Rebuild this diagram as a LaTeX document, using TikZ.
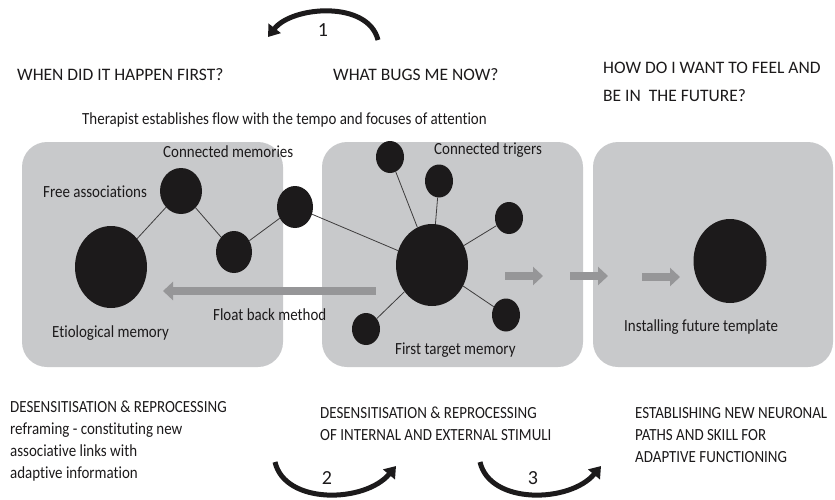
\documentclass[tikz,border=0pt]{standalone}
\usepackage{fontspec}
\setmainfont{Carlito}[Ligatures=NoCommon]
\newfontfamily\remarkfont{Carlito}[FakeStretch=0.88, Ligatures=NoCommon]
\usetikzlibrary{shapes.geometric,arrows.meta}
\definecolor{panelgray}{RGB}{200,201,203}
\definecolor{flowgray}{RGB}{150,150,152}
\definecolor{inkblack}{RGB}{28,26,27}
\tikzset{
  panel/.style={fill=panelgray, rounded corners=25pt, inner sep=0},
  ball/.style={ellipse, fill=inkblack, inner sep=0},
  link/.style={draw=inkblack!85, line width=0.8pt},
  flowarrow/.style={draw=flowgray, line width=8pt, -{Triangle[width=18pt,length=10pt]}},
  cyclearrow/.style={draw=inkblack, line width=5pt, -{Triangle[width=15pt,length=11pt]}},
  headline/.style={font=\fontsize{17.5}{28}\selectfont, text=inkblack, anchor=west, inner sep=0, align=left},
  remark/.style={font=\remarkfont\fontsize{17}{22}\selectfont, text=inkblack, anchor=west, inner sep=0, align=left},
  num/.style={font=\fontsize{20}{20}\selectfont, text=inkblack, inner sep=0}
}
\begin{document}
\begin{tikzpicture}[x=1pt,y=-1pt]
\useasboundingbox (0,0) rectangle (835,499);

\node[panel, minimum width=261pt, minimum height=225pt] (past) at (152.5,254.5) {};
\node[panel, minimum width=261pt, minimum height=225pt] (now) at (452.5,254.5) {};
\node[panel, minimum width=240pt, minimum height=225pt] (future) at (713,254.5) {};

\node[headline] (qpast) at (17,75) {WHEN DID IT HAPPEN FIRST?};
\node[headline] (qnow) at (333,75) {WHAT BUGS ME NOW?};
\node[headline] (qfuture) at (603,82) {HOW DO I WANT TO FEEL AND\\BE IN\ \ THE FUTURE?};
\node[remark] (tempo) at (82,120) {Therapist establishes flow with the tempo and focuses of attention};

% memories
\node[ball, minimum width=72pt, minimum height=82pt] (etio) at (111,267) {};
\node[ball, minimum width=42pt, minimum height=46pt] (mem1) at (181,191) {};
\node[ball, minimum width=36pt, minimum height=42pt] (mem2) at (234,252) {};
\node[ball, minimum width=36pt, minimum height=42pt] (mem3) at (295,207) {};
% triggers
\node[ball, minimum width=72pt, minimum height=82pt] (target) at (432,265) {};
\node[ball, minimum width=28pt, minimum height=32pt] (trig1) at (390,157) {};
\node[ball, minimum width=28pt, minimum height=33pt] (trig2) at (439,181) {};
\node[ball, minimum width=28pt, minimum height=32pt] (trig3) at (509,218) {};
\node[ball, minimum width=28pt, minimum height=33pt] (trig4) at (506,315) {};
\node[ball, minimum width=28pt, minimum height=32pt] (trig5) at (366,329) {};
\node[ball, minimum width=73pt, minimum height=84pt] (template) at (730,261) {};

\draw[link] (etio) -- (mem1) -- (mem2) -- (mem3) -- (target);
\foreach \t in {1,...,5} \draw[link] (target) -- (trig\t);

\coordinate (fb1) at (376,291);
\coordinate (fb2) at (163,291);
\draw[flowarrow] (fb1) -- (fb2);
\coordinate (go1) at (505,276); \coordinate (go2) at (543,276);
\coordinate (go3) at (570,276); \coordinate (go4) at (608,276);
\coordinate (go5) at (642,277); \coordinate (go6) at (680,277);
\draw[flowarrow] (go1) -- (go2);
\draw[flowarrow] (go3) -- (go4);
\draw[flowarrow] (go5) -- (go6);

\node[remark] (lmem) at (163,152) {Connected memories};
\node[remark] (lfree) at (43,192) {Free associations};
\node[remark] (letio) at (52,333) {Etiological memory};
\node[remark] (lfloat) at (213,315) {Float back method};
\node[remark] (ltrig) at (434,150) {Connected trigers};
\node[remark] (ltarget) at (395,350) {First target memory};
\node[remark] (ltemplate) at (624,327) {Installing future template};

\node[remark] (dpast) at (10,441) {DESENSITISATION \& REPROCESSING\\reframing - constituting new\\associative links with\\adaptive information};
\node[remark] (dnow) at (320,424) {DESENSITISATION \& REPROCESSING\\OF INTERNAL AND EXTERNAL STIMULI};
\node[remark] (dfuture) at (635,435) {ESTABLISHING NEW NEURONAL\\PATHS AND SKILL FOR\\ADAPTIVE FUNCTIONING};

\coordinate (c1a) at (378,40); \coordinate (c1b) at (268,37);
\draw[cyclearrow] (c1a) .. controls (368,0) and (292,6) .. (c1b);
\node[num] (n1) at (323,30) {1};
\coordinate (c2a) at (275,462); \coordinate (c2b) at (396,466);
\draw[cyclearrow] (c2a) .. controls (285,505) and (365,503) .. (c2b);
\node[num] (n2) at (327,478) {2};
\coordinate (c3a) at (480,462); \coordinate (c3b) at (601,466);
\draw[cyclearrow] (c3a) .. controls (490,505) and (570,503) .. (c3b);
\node[num] (n3) at (533,478) {3};
\end{tikzpicture}
\end{document}
